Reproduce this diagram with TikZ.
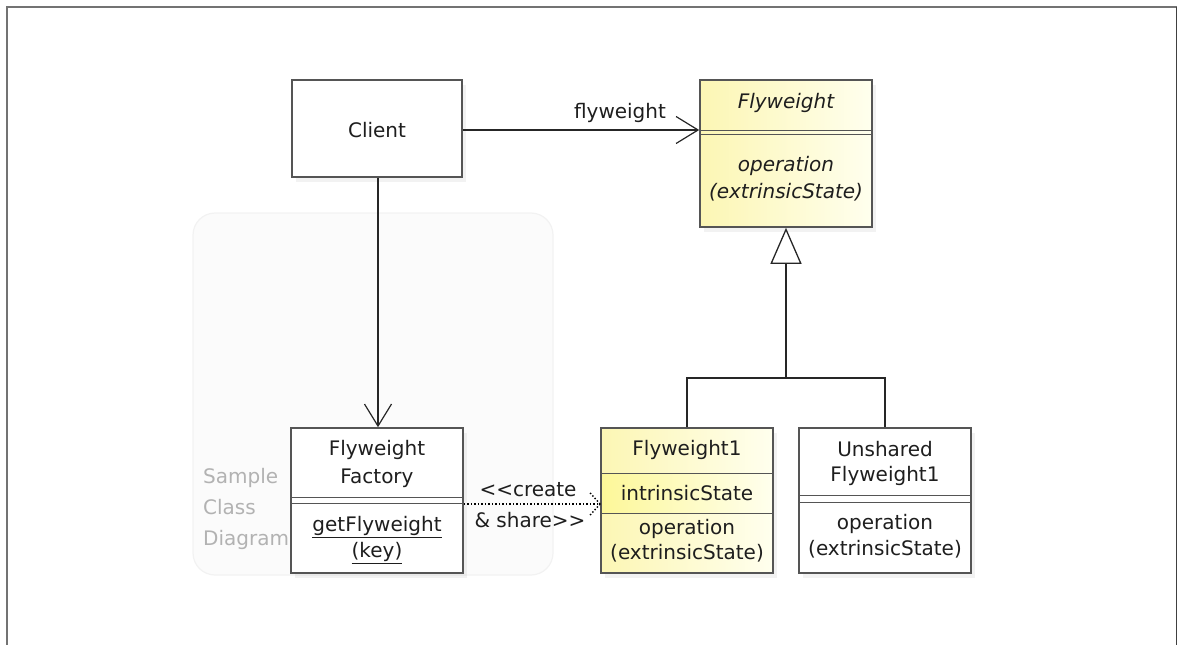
\documentclass[tikz,border=0pt]{standalone}
\usepackage{fontspec}
\setmainfont{DejaVu Sans}
\usetikzlibrary{arrows.meta,shadows}
\definecolor{ylA}{RGB}{252,246,180}
\definecolor{ylB}{RGB}{255,255,238}
\definecolor{bord}{RGB}{85,85,85}
\definecolor{txt}{RGB}{30,30,30}
\tikzset{
  cls/.style={draw=bord, line width=1.6pt, fill=white, inner sep=0pt,
    drop shadow={shadow xshift=4pt, shadow yshift=-5pt, opacity=0.10}},
  ycls/.style={cls, left color=ylA, right color=ylB},
  lbl/.style={text=txt, font=\fontsize{20}{24}\selectfont, inner sep=0pt},
  ilbl/.style={lbl, font=\fontsize{20}{24}\selectfont\itshape},
  sep/.style={draw=bord, line width=1pt},
  conn/.style={draw=black!85, line width=1.5pt},
  assoc/.style={conn, -{Straight Barb[length=22pt,width=27pt,line width=1.2pt]}},
  gen/.style={conn, -{Triangle[open,length=36pt,width=31pt,line width=1.3pt]}},
}
\begin{document}
\begin{tikzpicture}[x=1pt,y=-1pt]
\useasboundingbox (0,0) rectangle (1178,645);
% outer frame
\draw[line width=1.6pt, black!55] (7,645) -- (7,7) -- (1176.5,7);
\draw[line width=1.6pt, black!75] (1176.5,7) -- (1176.5,645);
% sample background
\node[draw=black!5, line width=1.2pt, fill=black!1.5, rounded corners=22pt, minimum width=360pt, minimum height=362pt, inner sep=0pt] (bg) at (373,394) {};
\node[lbl, text=black!30, anchor=west, align=left, font=\fontsize{20}{31}\selectfont] (sample) at (203,509) {Sample\\Class\\Diagram};
% classes
\node[cls, minimum width=170pt, minimum height=97pt] (client) at (377,128.5) {};
\node[lbl] (clientT) at (377,130) {Client};

\node[ycls, minimum width=172pt, minimum height=147pt] (fw) at (786,153.5) {};
\node[ilbl] (fwT) at (786,103) {Flyweight};
\draw[sep] (fw.west |- 0,130) -- (fw.east |- 0,130);
\draw[sep] (fw.west |- 0,134) -- (fw.east |- 0,134);
\node[ilbl] (fwO) at (786,166) {operation};
\node[ilbl] (fwE) at (786,192) {(extrinsicState)};

\node[cls, minimum width=172pt, minimum height=145pt] (factory) at (377,500.5) {};
\node[lbl] (facT1) at (377,450) {Flyweight};
\node[lbl] (facT2) at (377,478) {Factory};
\draw[sep] (factory.west |- 0,497) -- (factory.east |- 0,497);
\draw[sep] (factory.west |- 0,503) -- (factory.east |- 0,503);
\node[lbl] (facO) at (377,527) {\underline{getFlyweight}};
\node[lbl] (facK) at (377,553) {\underline{(key)}};

\node[ycls, minimum width=172pt, minimum height=145pt] (fw1) at (687,500.5) {};
\path[left color=ylA!85!yellow, right color=ylB] (602,473) rectangle (772,513);
\draw[sep] (fw1.west |- 0,473) -- (fw1.east |- 0,473);
\draw[sep] (fw1.west |- 0,513) -- (fw1.east |- 0,513);
\draw[draw=bord, line width=1.6pt] (601,428) rectangle (773,573);
\node[lbl] (fw1T) at (687,450) {Flyweight1};
\node[lbl] (fw1I) at (687,493) {intrinsicState};
\node[lbl] (fw1O) at (687,529) {operation};
\node[lbl] (fw1E) at (687,553) {(extrinsicState)};

\node[cls, minimum width=172pt, minimum height=145pt] (un) at (885,500.5) {};
\node[lbl] (unT1) at (885,449) {Unshared};
\node[lbl] (unT2) at (885,476) {Flyweight1};
\draw[sep] (un.west |- 0,495) -- (un.east |- 0,495);
\draw[sep] (un.west |- 0,502) -- (un.east |- 0,502);
\node[lbl] (unO) at (885,524) {operation};
\node[lbl] (unE) at (885,549) {(extrinsicState)};

% connectors
\draw[assoc] (client.east |- 0,130) -- (fw.west |- 0,130);
\node[lbl] (flyL) at (620,113) {flyweight};
\draw[assoc] (client.south -| 378,0) -- (factory.north -| 378,0);

\coordinate (gj) at (786,378);
\draw[conn] (fw1.north) |- (gj) -| (un.north);
\draw[gen] (gj) -- (fw.south);

\coordinate (dtip) at (fw1.west |- 0,504);
\draw[line width=1.5pt, dotted] (factory.east |- 0,504) -- (dtip);
\draw[line width=1.4pt, dotted] (dtip) -- ++(-11,-12);
\draw[line width=1.4pt, dotted] (dtip) -- ++(-11,12);
\node[lbl] (crL) at (528,490) {<\kern0pt<create};
\node[lbl] (shL) at (530,520) {\& share>\kern0pt>};
\end{tikzpicture}
\end{document}
